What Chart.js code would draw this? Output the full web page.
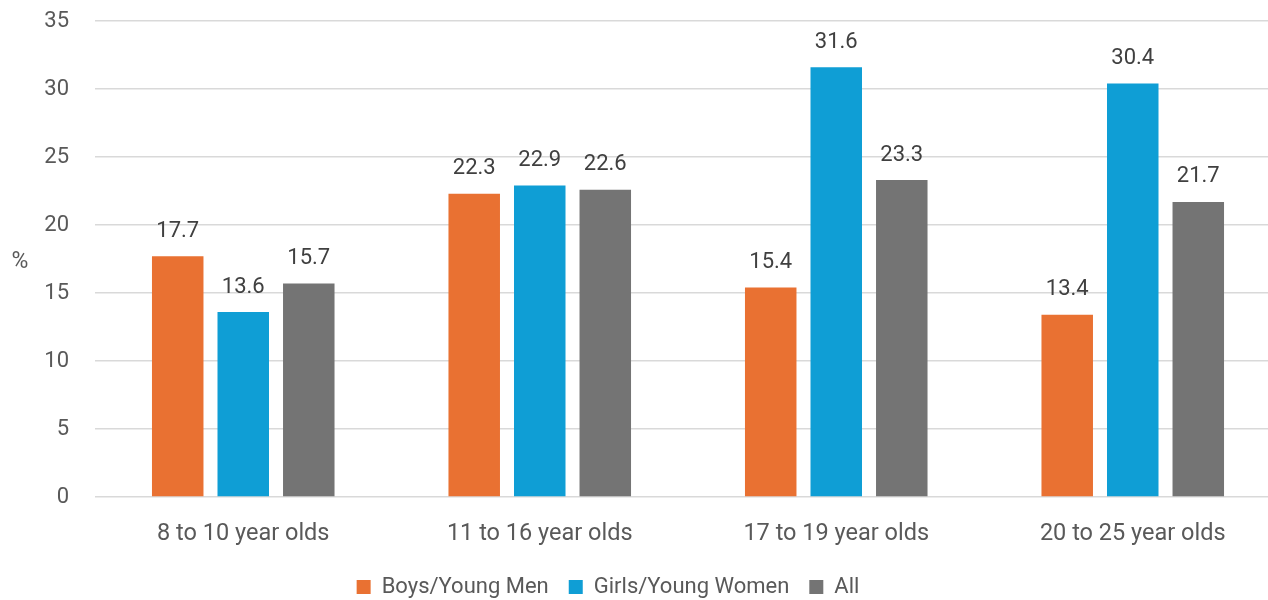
<!DOCTYPE html>
<html>
<head>
<meta charset="utf-8">
<script src="https://cdn.jsdelivr.net/npm/chart.js@4.4.1/dist/chart.umd.min.js"></script>
<style>
    html, body { margin: 0; padding: 0; background: #ffffff; overflow: hidden; }
    #wrap { position: relative; width: 1290px; height: 600px; }
</style>
</head>
<body>
<div id="wrap">
    <canvas id="chart"></canvas>
</div>
<script>
const categories = ['8 to 10 year olds', '11 to 16 year olds', '17 to 19 year olds', '20 to 25 year olds'];
const boysValues = [17.7, 22.3, 15.4, 13.4];
const girlsValues = [13.6, 22.9, 31.6, 30.4];
const allValues = [15.7, 22.6, 23.3, 21.7];
const seriesNames = ['Boys/Young Men', 'Girls/Young Women', 'All'];
const seriesColors = ['#E97132', '#0F9ED5', '#747474'];
const yTicks = [0, 5, 10, 15, 20, 25, 30, 35];

const FONT = 'Roboto, "Liberation Sans", sans-serif';

// value labels above each bar
const valueLabels = {
    id: 'valueLabels',
    afterDatasetsDraw(chart) {
        const ctx = chart.ctx;
        ctx.save();
        ctx.font = `22px ${FONT}`;
        ctx.fillStyle = '#404040';
        ctx.textAlign = 'center';
        ctx.textBaseline = 'middle';
        chart.data.datasets.forEach((ds, i) => {
            chart.getDatasetMeta(i).data.forEach((bar, j) => {
                ctx.fillText(ds.data[j].toFixed(1), bar.x, bar.y - 25);
            });
        });
        ctx.restore();
    }
};

// horizontal "%" axis title, legend sized/moved to where Excel put it
const extras = {
    id: 'extras',
    beforeInit(chart) {
        const fit = chart.legend.fit;
        chart.legend.fit = function () {
            fit.call(this);
            this.height = 44;
        };
    },
    afterLayout(chart) {
        const lg = chart.legend;
        const dx = 608 - (lg.left + lg.right) / 2;
        lg.left += dx;
        lg.right += dx;
    },
    afterDraw(chart) {
        const ctx = chart.ctx;
        const { top, bottom } = chart.chartArea;
        ctx.save();
        ctx.font = `23px ${FONT}`;
        ctx.fillStyle = '#595959';
        ctx.textAlign = 'center';
        ctx.textBaseline = 'middle';
        ctx.fillText('%', 20, (top + bottom) / 2 + 3);
        ctx.restore();
    }
};

const ctx = document.getElementById('chart').getContext('2d');
new Chart(ctx, {
    type: 'bar',
    data: {
        labels: categories,
        datasets: [boysValues, girlsValues, allValues].map((vals, i) => ({
            label: seriesNames[i],
            data: vals,
            backgroundColor: seriesColors[i],
            borderWidth: 0,
            categoryPercentage: 0.663,
            barPercentage: 0.786
        }))
    },
    options: {
        responsive: true,
        maintainAspectRatio: false,
        animation: false,
        layout: { padding: { top: 21, right: 9, left: 0, bottom: 0 } },
        plugins: {
            tooltip: { enabled: false },
            legend: {
                position: 'bottom',
                labels: {
                    boxWidth: 14,
                    boxHeight: 14,
                    padding: 20,
                    color: '#595959',
                    font: { family: FONT, size: 22 }
                }
            }
        },
        scales: {
            x: {
                afterFit(scale) { scale.height = 59; },
                grid: { display: false, drawTicks: false },
                border: { display: false },
                ticks: { color: '#595959', padding: 23, font: { family: FONT, size: 23.5 } }
            },
            y: {
                min: 0,
                max: 35,
                afterFit(scale) {
                    scale.width = 95;
                    scale.paddingTop = 12;
                    scale.paddingBottom = 12;
                },
                afterBuildTicks(scale) { scale.ticks = yTicks.map(v => ({ value: v })); },
                grid: { color: '#D9D9D9', lineWidth: 1.5, drawTicks: false },
                border: { display: false },
                ticks: { color: '#595959', padding: 26, font: { family: FONT, size: 22 } }
            }
        }
    },
    plugins: [valueLabels, extras]
});
</script>
</body>
</html>
